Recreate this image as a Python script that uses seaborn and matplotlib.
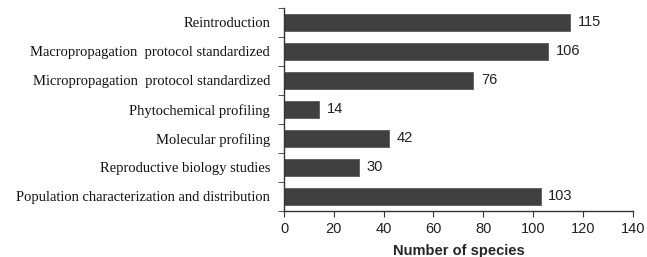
import numpy as np
import pandas as pd
import matplotlib
matplotlib.use("Agg")
import matplotlib.pyplot as plt
import seaborn as sns

categories = [
    "Reintroduction",
    "Macropropagation  protocol standardized",
    "Micropropagation  protocol standardized",
    "Phytochemical profiling",
    "Molecular profiling",
    "Reproductive biology studies",
    "Population characterization and distribution",
]
species_counts = [115, 106, 76, 14, 42, 30, 103]
x_ticks = [0, 20, 40, 60, 80, 100, 120, 140]

df = pd.DataFrame({"activity": categories, "n": species_counts})

sns.set_style("white")
plt.rcParams["font.family"] = ["Liberation Sans", "DejaVu Sans"]

fig = plt.figure(figsize=(6.47, 2.57), dpi=100)
ax = fig.add_axes([0.439, 0.179, 0.539, 0.79])

sns.barplot(data=df, x="n", y="activity", color="#404040", width=0.6,
            edgecolor="#5a5a5a", linewidth=0.6, saturation=1, ax=ax)

for i, v in enumerate(species_counts):
    ax.text(v + 3, i, str(v), va="center", ha="left", fontsize=10.5, color="#222222")

ax.set_xlim(0, 140)
ax.set_ylim(len(categories) - 0.5, -0.5)
ax.set_xticks(x_ticks)
ax.set_xticklabels([str(t) for t in x_ticks], fontsize=10.5, color="#222222")
ax.set_yticks(range(len(categories)))
ax.set_yticklabels(categories, fontsize=10.5, family="Liberation Serif", color="#111111")
ax.tick_params(axis="y", which="major", left=False, length=0, pad=10)
ax.set_yticks(np.arange(-0.5, len(categories), 1), minor=True)
ax.tick_params(axis="y", which="minor", left=True, length=4, direction="out",
               color="#333333")
ax.tick_params(axis="x", bottom=True, length=4, direction="out", color="#333333", pad=4)

for side in ["top", "right"]:
    ax.spines[side].set_visible(False)
for side in ["left", "bottom"]:
    ax.spines[side].set_color("#333333")
    ax.spines[side].set_linewidth(1.0)

ax.set_ylabel("")
ax.set_xlabel("Number of species", fontsize=10.5, fontweight="bold", labelpad=6)

fig.savefig("out.png", dpi=100)
plt.close(fig)
